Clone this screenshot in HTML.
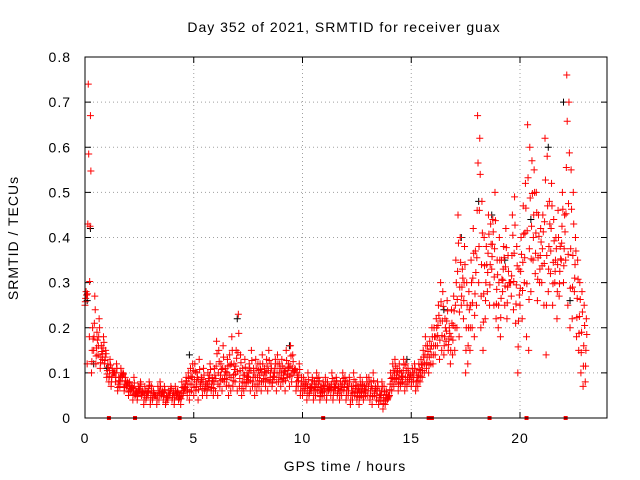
<!DOCTYPE html>
<html><head><meta charset="utf-8"><style>
html,body{margin:0;padding:0;background:#fff}
svg{display:block;font-family:"Liberation Sans",sans-serif;font-size:14px;letter-spacing:1px}
</style></head><body>
<svg width="640" height="480">
<g id="grid"></g>
<g id="ticks"></g>
<g id="marks"></g>
<rect x="85" y="57" width="522" height="361" fill="none" stroke="#000"/>
<text x="344" y="32" text-anchor="middle">Day 352 of 2021, SRMTID for receiver guax</text>
<text x="345" y="471" text-anchor="middle">GPS time / hours</text>
<text transform="translate(18,238) rotate(-90)" text-anchor="middle">SRMTID / TECUs</text>
</svg>
<script>
const xTicks=[0,5,10,15,20];
const yTicks=[0,0.1,0.2,0.3,0.4,0.5,0.6,0.7,0.8];
const tStep=0.1;
const redLow=[.25,.12,.18,.10,.15,.12,.14,.11,.13,.12,
.09,.08,.07,.10,.08,.06,.07,.09,.06,.07,
.05,.06,.04,.05,.04,.06,.05,.03,.04,.05,
.03,.04,.05,.03,.04,.05,.04,.03,.04,.05,
.04,.03,.05,.04,.03,.05,.06,.05,.04,.06,
.05,.06,.04,.07,.05,.06,.05,.07,.06,.05,
.06,.05,.07,.06,.08,.07,.05,.06,.07,.08,
.06,.07,.05,.06,.07,.08,.06,.07,.05,.06,
.07,.06,.08,.07,.06,.08,.07,.09,.06,.08,
.07,.08,.06,.09,.07,.08,.10,.06,.07,.05,
.05,.06,.04,.05,.06,.04,.05,.06,.04,.05,
.05,.04,.06,.05,.04,.06,.05,.04,.05,.06,
.04,.05,.03,.04,.05,.04,.03,.05,.04,.05,
.05,.04,.03,.05,.04,.03,.04,.02,.03,.04,
.05,.06,.07,.08,.06,.07,.08,.06,.07,.08,
.07,.08,.06,.07,.08,.09,.10,.11,.10,.12,
.12,.14,.16,.13,.15,.14,.17,.15,.12,.14,
.15,.20,.18,.25,.22,.10,.12,.15,.20,.18,
.25,.30,.20,.15,.22,.28,.25,.33,.25,.22,
.20,.18,.28,.25,.22,.30,.27,.24,.21,.10,
.25,.22,.30,.18,.15,.28,.35,.32,.26,.30,
.30,.25,.14,.28,.32,.25,.30,.22,.27,.35,
.30,.35,.25,.20,.22,.28,.18,.15,.10,.07,.08];
const redHigh=[.28,.74,.67,.20,.27,.19,.22,.16,.18,.15,
.12,.13,.11,.10,.12,.09,.11,.10,.09,.08,
.08,.07,.09,.06,.07,.08,.06,.07,.06,.08,
.07,.06,.05,.07,.08,.06,.07,.05,.06,.07,
.06,.07,.06,.05,.08,.07,.09,.10,.11,.12,
.12,.10,.13,.09,.11,.08,.10,.12,.09,.11,
.17,.15,.12,.16,.11,.13,.14,.18,.12,.15,
.23,.14,.11,.13,.10,.12,.15,.11,.13,.12,
.12,.14,.11,.13,.15,.12,.10,.13,.14,.12,
.13,.11,.15,.12,.16,.14,.11,.10,.12,.09,
.09,.08,.10,.07,.09,.08,.10,.09,.07,.08,
.09,.08,.07,.10,.08,.09,.07,.08,.10,.09,
.08,.09,.07,.10,.08,.07,.09,.08,.07,.09,
.09,.08,.10,.07,.08,.06,.08,.07,.06,.05,
.10,.12,.13,.11,.12,.10,.13,.12,.11,.10,
.11,.12,.10,.12,.13,.15,.18,.16,.17,.20,
.20,.22,.25,.30,.28,.22,.26,.20,.24,.27,
.35,.45,.40,.33,.38,.30,.28,.35,.42,.37,
.67,.62,.48,.40,.38,.45,.43,.44,.50,.35,
.40,.35,.38,.42,.36,.30,.45,.49,.38,.33,
.40,.47,.52,.65,.60,.57,.55,.50,.45,.42,
.45,.62,.58,.48,.52,.44,.40,.46,.38,.50,
.45,.76,.70,.55,.50,.40,.35,.30,.28,.25,.22];
const blackTimes=[0.1,0.25,0.4,1.0,4.8,7.0,9.4,14.8,16.5,17.3,18.1,18.7,19.3,20.5,21.3,22.0,22.3];
const blackValues=[0.26,0.42,0.12,0.11,0.14,0.22,0.16,0.13,0.24,0.40,0.48,0.45,0.35,0.44,0.60,0.70,0.26];
const zeroTimes=[1.1,2.3,4.35,10.95,15.8,15.95,18.6,20.3,22.1];
const X=t=>85+t*522/24, Y=v=>418-v*361/0.8;
const NS="http://www.w3.org/2000/svg";
function mk(tag,attrs,parent){const e=document.createElementNS(NS,tag);for(const k in attrs)e.setAttribute(k,attrs[k]);parent.appendChild(e);return e;}
const grid=document.getElementById('grid'),ticks=document.getElementById('ticks'),marks=document.getElementById('marks');
xTicks.forEach(t=>{const x=X(t);
 const g=mk('line',{x1:x,x2:x,y1:57,y2:418,stroke:'#a0a0a0','stroke-dasharray':'1,3'},grid);
 
 
 mk('line',{x1:x,x2:x,y1:418,y2:412,stroke:'#000'},ticks);
 mk('line',{x1:x,x2:x,y1:57,y2:63,stroke:'#000'},ticks);
 const l=mk('text',{x:x,y:443,'text-anchor':'middle'},ticks);l.textContent=t;
 
 
});
yTicks.forEach(v=>{const y=Y(v);
 const g=mk('line',{x1:85,x2:607,y1:y,y2:y,stroke:'#a0a0a0','stroke-dasharray':'1,3'},grid);
 
 
 mk('line',{x1:85,x2:91,y1:y,y2:y,stroke:'#000'},ticks);
 mk('line',{x1:601,x2:607,y1:y,y2:y,stroke:'#000'},ticks);
 const l=mk('text',{x:71,y:y+5,'text-anchor':'end'},ticks);l.textContent=v===0?'0':v.toFixed(1);
 
 
});
function plus(t,v,c){const x=X(t),y=Y(v);
 const p=mk('path',{d:`M${x-3.5},${y}h7M${x},${y-3.5}v7`,stroke:c,'stroke-width':1,fill:'none'},marks);
 
 }
blackTimes.forEach((t,i)=>plus(t,blackValues[i],'#000'));
redLow.forEach((v,i)=>plus(i*tStep,v,'#f00'));
redHigh.forEach((v,i)=>plus(i*tStep+0.05,v,'#f00'));
[[0.25,0.015],[0.5,0.03],[0.75,0.07]].forEach(([f,o])=>{
 redLow.forEach((v,i)=>{const m=v+(redHigh[i]-v)*f;plus(i*tStep+o,m,'#f00');});
});
zeroTimes.forEach(t=>{const r=mk('rect',{x:X(t)-2,y:416,width:4,height:4,fill:'#f00'},marks);
 
 });
</script>
</body></html>
